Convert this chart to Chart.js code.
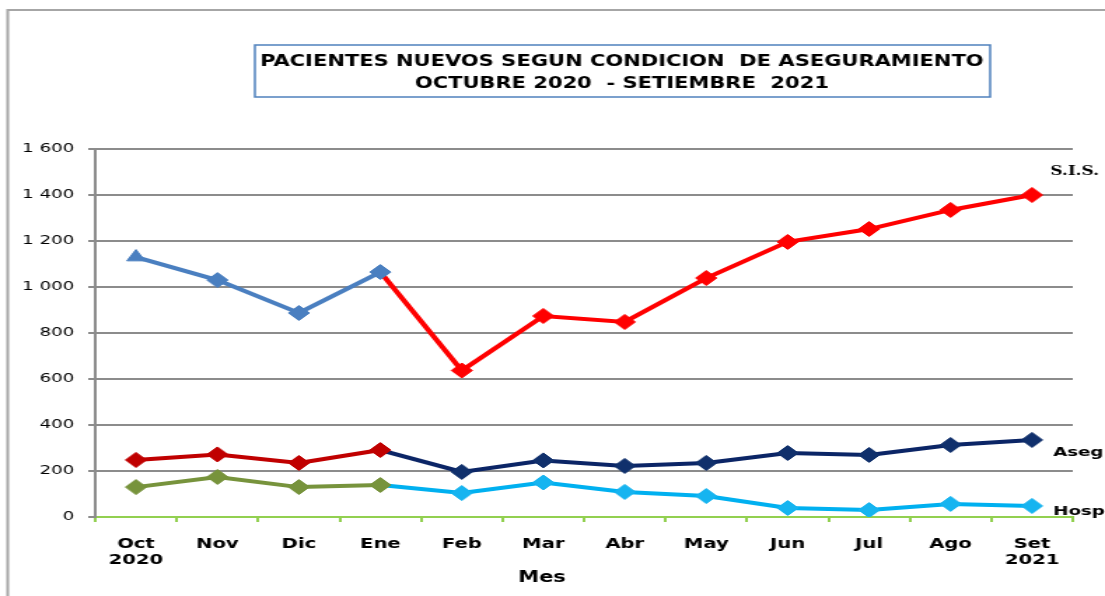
<!DOCTYPE html>
<html>
<head>
<meta charset="utf-8">
<script src="https://cdn.jsdelivr.net/npm/chart.js@4"></script>
<style>
  html, body { margin: 0; padding: 0; background: #fff; overflow: hidden; }
  /* the source picture is stretched sideways, so the chart is drawn narrow and widened */
  #wrap { width: 789px; height: 596px; transform: scaleX(1.4005); transform-origin: 0 0; }
</style>
</head>
<body>
<div id="wrap"><canvas id="chart"></canvas></div>
<script>
const months = [['Oct', '2020'], 'Nov', 'Dic', 'Ene', 'Feb', 'Mar', 'Abr', 'May', 'Jun', 'Jul', 'Ago', ['Set', '2021']];
const sis = [1130, 1030, 887, 1065, 637, 874, 848, 1039, 1196, 1252, 1335, 1400];
const aseg = [248, 272, 235, 291, 196, 246, 222, 235, 278, 270, 313, 335];
const hosp = [130, 174, 130, 139, 104, 150, 109, 91, 39, 30, 57, 48];
const yTickLabels = ['0', '200', '400', '600', '800', '1 000', '1 200', '1 400', '1 600'];
const seriesNames = ['S.I.S.', 'Aseg', 'Hosp'];
const changeIndex = 3; // colours change after Ene

// early colour until Ene, late colour after
function splitSeries(label, data, early, late, earlyPoint, latePoint, firstStyle) {
    return {
        label: label,
        data: data,
        borderWidth: 4,
        pointRadius: 7.5,
        pointHoverRadius: 7.5,
        pointStyle: data.map((v, i) => (i === 0 && firstStyle) ? firstStyle : 'rectRot'),
        pointBackgroundColor: data.map((v, i) => i <= changeIndex ? earlyPoint : latePoint),
        pointBorderColor: data.map((v, i) => i <= changeIndex ? earlyPoint : latePoint),
        pointBorderWidth: 1,
        segment: {
            borderColor: ctx => ctx.p0DataIndex < changeIndex ? early : late
        },
        borderColor: late,
        tension: 0
    };
}

const decorations = {
    id: 'decorations',
    beforeDraw(chart) {
        const c = chart.ctx;
        c.save();
        c.fillStyle = '#fff';
        c.fillRect(0, 0, chart.width, chart.height);
        // outer frame
        c.strokeStyle = '#a6a6a6';
        c.lineWidth = 2;
        c.beginPath();
        c.moveTo(5.5, chart.height + 5);
        c.lineTo(5.5, 10);
        c.lineTo(chart.width + 5, 10);
        c.stroke();
        c.restore();
    },
    afterDraw(chart) {
        const c = chart.ctx;
        const area = chart.chartArea;
        c.save();
        // title box
        c.strokeStyle = '#4f81bd';
        c.lineWidth = 1.5;
        c.strokeRect(182, 45, 525, 52);
        c.fillStyle = '#000';
        c.textAlign = 'center';
        c.textBaseline = 'middle';
        c.font = 'bold 15px "DejaVu Sans"';
        c.fillText('PACIENTES NUEVOS SEGUN CONDICION  DE ASEGURAMIENTO', 444, 62);
        c.fillText('OCTUBRE 2020  - SETIEMBRE  2021', 444, 84);
        // axis title
        c.font = 'bold 15px "DejaVu Sans"';
        c.fillText('Mes', 387, 578);
        // series names at the right end
        const y = chart.scales.y;
        c.textAlign = 'left';
        c.font = 'bold 12px "DejaVu Serif"';
        c.fillText(seriesNames[0], 750, 172);
        c.font = 'bold 13px "DejaVu Sans"';
        c.fillText(seriesNames[1], 752, 453);
        c.fillText(seriesNames[2], 752, 512);
        c.restore();
    }
};

new Chart(document.getElementById('chart'), {
    type: 'line',
    data: {
        labels: months,
        datasets: [
            splitSeries('S.I.S.', sis, '#4a7fc0', '#ff0000', '#4a7fc0', '#ff0000', 'triangle'),
            splitSeries('Aseg', aseg, '#c00000', '#0b2566', '#c00000', '#10306c'),
            splitSeries('Hosp', hosp, '#77933c', '#00b0f0', '#77933c', '#16b4f0')
        ]
    },
    options: {
        responsive: true,
        maintainAspectRatio: false,
        animation: false,
        layout: { padding: { top: 149, left: 0, right: 23, bottom: 0 } },
        plugins: {
            legend: { display: false },
            tooltip: { enabled: false }
        },
        scales: {
            x: {
                offset: true,
                grid: {
                    offset: true,
                    drawOnChartArea: false,
                    drawTicks: true,
                    tickLength: 5,
                    color: '#92d050',
                    lineWidth: 2
                },
                border: { color: '#92d050', width: 2 },
                ticks: {
                    color: '#000',
                    padding: 14,
                    maxRotation: 0,
                    autoSkip: false,
                    font: { family: 'DejaVu Sans', size: 14, weight: 'bold', lineHeight: 1.15 }
                },
                afterFit: scale => { scale.height = 596 - 517; }
            },
            y: {
                min: 0,
                max: 1600,
                ticks: {
                    stepSize: 200,
                    color: '#000',
                    padding: 10,
                    font: { family: 'DejaVu Sans', size: 13 },
                    callback: (v, i) => yTickLabels[i]
                },
                grid: {
                    color: '#8c8c8c',
                    lineWidth: 2,
                    drawTicks: true,
                    tickLength: 5
                },
                border: { color: '#8c8c8c', width: 2 },
                afterFit: scale => { scale.width = 68; }
            }
        }
    },
    plugins: [decorations]
});
</script>
</body>
</html>
